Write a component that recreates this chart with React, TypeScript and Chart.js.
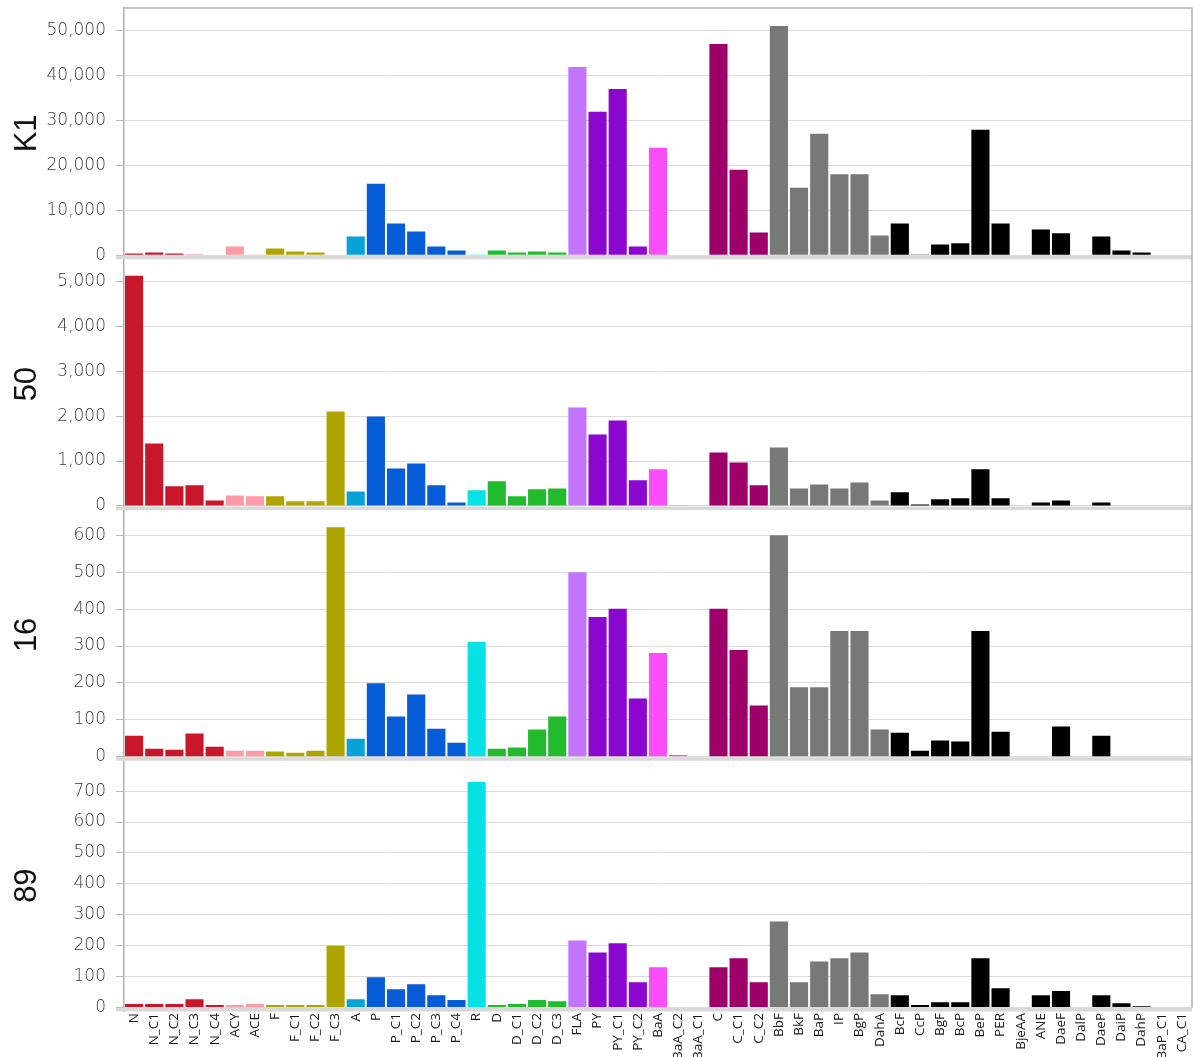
import { useEffect, useRef } from 'react';
import { Chart, registerables } from 'chart.js';

Chart.register(...registerables);

// Compound categories along the shared x axis
const categories = [
  'N', 'N_C1', 'N_C2', 'N_C3', 'N_C4', 'ACY', 'ACE', 'F', 'F_C1', 'F_C2', 'F_C3',
  'A', 'P', 'P_C1', 'P_C2', 'P_C3', 'P_C4', 'R', 'D', 'D_C1', 'D_C2', 'D_C3',
  'FLA', 'PY', 'PY_C1', 'PY_C2', 'BaA', 'BaA_C2', 'BaA_C1', 'C', 'C_C1', 'C_C2',
  'BbF', 'BkF', 'BaP', 'IP', 'BgP', 'DahA', 'BcF', 'CcP', 'BgF', 'BcP', 'BeP',
  'PER', 'BjeAA', 'ANE', 'DaeF', 'DalP', 'DaeP', 'DaiP', 'DahP', 'BaP_C1', 'CA_C1',
];

// Sample values, one array per panel
const k1Values = [
  370, 590, 370, 150, 0, 1930, 150, 1480, 815, 590, 0,
  4150, 15900, 7040, 5260, 1930, 1040, 150, 1040, 590, 815, 590,
  41900, 31900, 37000, 1930, 23900, 0, 0, 47000, 19000, 5040,
  51000, 15000, 27000, 18000, 18000, 4370, 7040, 150, 2370, 2670, 27900,
  7040, 0, 5700, 4890, 0, 4150, 1040, 590, 0, 0,
];
const s50Values = [
  5120, 1390, 440, 460, 125, 235, 215, 215, 105, 105, 2100,
  325, 1990, 835, 945, 460, 80, 350, 550, 215, 370, 390,
  2190, 1590, 1900, 570, 815, 15, 0, 1190, 970, 460,
  1300, 390, 480, 390, 525, 125, 305, 35, 150, 170, 815,
  170, 0, 80, 125, 0, 80, 0, 0, 0, 0,
];
const s16Values = [
  57, 22, 19, 63, 27, 16, 16, 14, 11, 16, 622,
  49, 199, 109, 169, 76, 38, 311, 22, 25, 74, 109,
  500, 379, 401, 158, 281, 5, 0, 401, 289, 139,
  600, 188, 188, 341, 341, 74, 65, 16, 44, 41, 341,
  68, 0, 0, 82, 0, 57, 0, 0, 0, 0,
];
const s89Values = [
  11, 11, 11, 27, 8, 8, 11, 8, 8, 8, 200,
  27, 98, 59, 75, 40, 24, 730, 8, 11, 24, 20,
  217, 178, 208, 82, 130, 0, 0, 130, 159, 82,
  278, 82, 149, 159, 178, 43, 40, 8, 17, 17, 159,
  62, 0, 40, 53, 0, 40, 14, 4, 0, 0,
];

const panelNames = ['K1', '50', '16', '89'];
const k1Ticks = [0, 10000, 20000, 30000, 40000, 50000];
const s50Ticks = [0, 1000, 2000, 3000, 4000, 5000];
const s16Ticks = [0, 100, 200, 300, 400, 500, 600];
const s89Ticks = [0, 100, 200, 300, 400, 500, 600, 700];
const panelMax = [55000, 5500, 670, 800];

// Colour per compound family
const RED = '#c8172b';
const PINK = '#ff9aa8';
const OLIVE = '#aea500';
const SKY = '#07a2d6';
const BLUE = '#065bd6';
const CYAN = '#06e1e6';
const GREEN = '#22bb2e';
const LILAC = '#c274fa';
const PURPLE = '#8b07cf';
const MAGENTA = '#fa4efa';
const PLUM = '#9e006a';
const GREY = '#787878';
const BLACK = '#000000';

const barColors = [
  RED, RED, RED, RED, RED, PINK, PINK, OLIVE, OLIVE, OLIVE, OLIVE,
  SKY, BLUE, BLUE, BLUE, BLUE, BLUE, CYAN, GREEN, GREEN, GREEN, GREEN,
  LILAC, PURPLE, PURPLE, PURPLE, MAGENTA, MAGENTA, MAGENTA, PLUM, PLUM, PLUM,
  GREY, GREY, GREY, GREY, GREY, GREY, BLACK, BLACK, BLACK, BLACK, BLACK,
  BLACK, BLACK, BLACK, BLACK, BLACK, BLACK, BLACK, BLACK, BLACK, BLACK,
];

const panelValues = [k1Values, s50Values, s16Values, s89Values];
const panelTicks = [k1Ticks, s50Ticks, s16Ticks, s89Ticks];
const yIds = ['y1', 'y2', 'y3', 'y4'];

// Room left under each zero line for the separator strip
const BELOW_ZERO = 0.01416;

// Grey strip under each panel's zero line plus the outer frame
const panelFrame = {
  id: 'panelFrame',
  beforeDatasetsDraw(chart: any) {
    const { ctx, chartArea } = chart;
    ctx.save();
    ctx.fillStyle = '#d9d9d9';
    for (const id of yIds) {
      const s = chart.scales[id];
      const z = s.getPixelForValue(0);
      ctx.fillRect(chartArea.left - 8, z + 0.5, chartArea.right - chartArea.left + 8, 3.5);
    }
    ctx.strokeStyle = '#b0b0b0';
    ctx.lineWidth = 1.5;
    ctx.beginPath();
    ctx.moveTo(chartArea.left, chartArea.top);
    ctx.lineTo(chartArea.right, chartArea.top);
    ctx.lineTo(chartArea.right, chartArea.bottom - 3.5);
    ctx.stroke();
    ctx.restore();
  },
};

function yScale(i: number) {
  return {
    type: 'linear',
    position: 'left',
    stack: 'panels',
    stackWeight: 1,
    weight: 4 - i,
    min: -panelMax[i] * BELOW_ZERO,
    max: panelMax[i],
    afterBuildTicks: (s: any) => {
      s.ticks = panelTicks[i].map((value) => ({ value }));
    },
    afterFit: (s: any) => {
      s.width = 124;
      s.paddingTop = 0;
      s.paddingBottom = 0;
    },
    grid: { color: '#dcdcdc', tickColor: '#b8b8b8', tickLength: 8, lineWidth: 1 },
    border: { display: true, color: '#b0b0b0', width: 1.5 },
    ticks: {
      autoSkip: false,
      padding: 10,
      color: '#3a3a3a',
      font: { family: 'DejaVu Sans', size: 17, weight: 300 },
      callback: (v: any) => Number(v).toLocaleString('en-US'),
    },
    title: {
      display: true,
      text: panelNames[i],
      color: '#111111',
      font: { family: 'Liberation Sans', size: 31 },
      padding: { top: 9, bottom: 0 },
    },
  };
}

export default function App() {
  const canvasRef = useRef<HTMLCanvasElement | null>(null);

  useEffect(() => {
    if (!canvasRef.current) return;
    const scales: any = {
      x: {
        type: 'category',
        grid: { display: false, drawTicks: false },
        border: { display: false },
        afterFit: (s: any) => {
          s.height = 46;
          s.paddingLeft = 0;
          s.paddingRight = 0;
        },
        ticks: {
          autoSkip: false,
          minRotation: 90,
          maxRotation: 90,
          padding: 2,
          color: '#1a1a1a',
          font: { family: 'Open Sans', size: 13.5 },
        },
      },
    };
    yIds.forEach((id, i) => {
      scales[id] = yScale(i);
    });

    const chart = new Chart(canvasRef.current, {
      type: 'bar',
      data: {
        labels: categories,
        datasets: panelValues.map((vals, i) => ({
          label: panelNames[i],
          data: vals,
          yAxisID: yIds[i],
          backgroundColor: barColors,
          borderWidth: 0,
          grouped: false,
          barPercentage: 0.9,
          categoryPercentage: 1.0,
        })),
      },
      options: {
        responsive: false,
        animation: false,
        layout: { padding: { top: 8, right: 1, left: 0, bottom: 0 } },
        plugins: {
          legend: { display: false },
          tooltip: { enabled: false },
        },
        scales,
      } as any,
      plugins: [panelFrame],
    });
    return () => chart.destroy();
  }, []);

  return (
    <div style={{ position: 'absolute', left: 0, top: 0, width: 1193, height: 1057, background: '#ffffff' }}>
      <canvas ref={canvasRef} width={1193} height={1057} style={{ display: 'block' }} />
    </div>
  );
}
